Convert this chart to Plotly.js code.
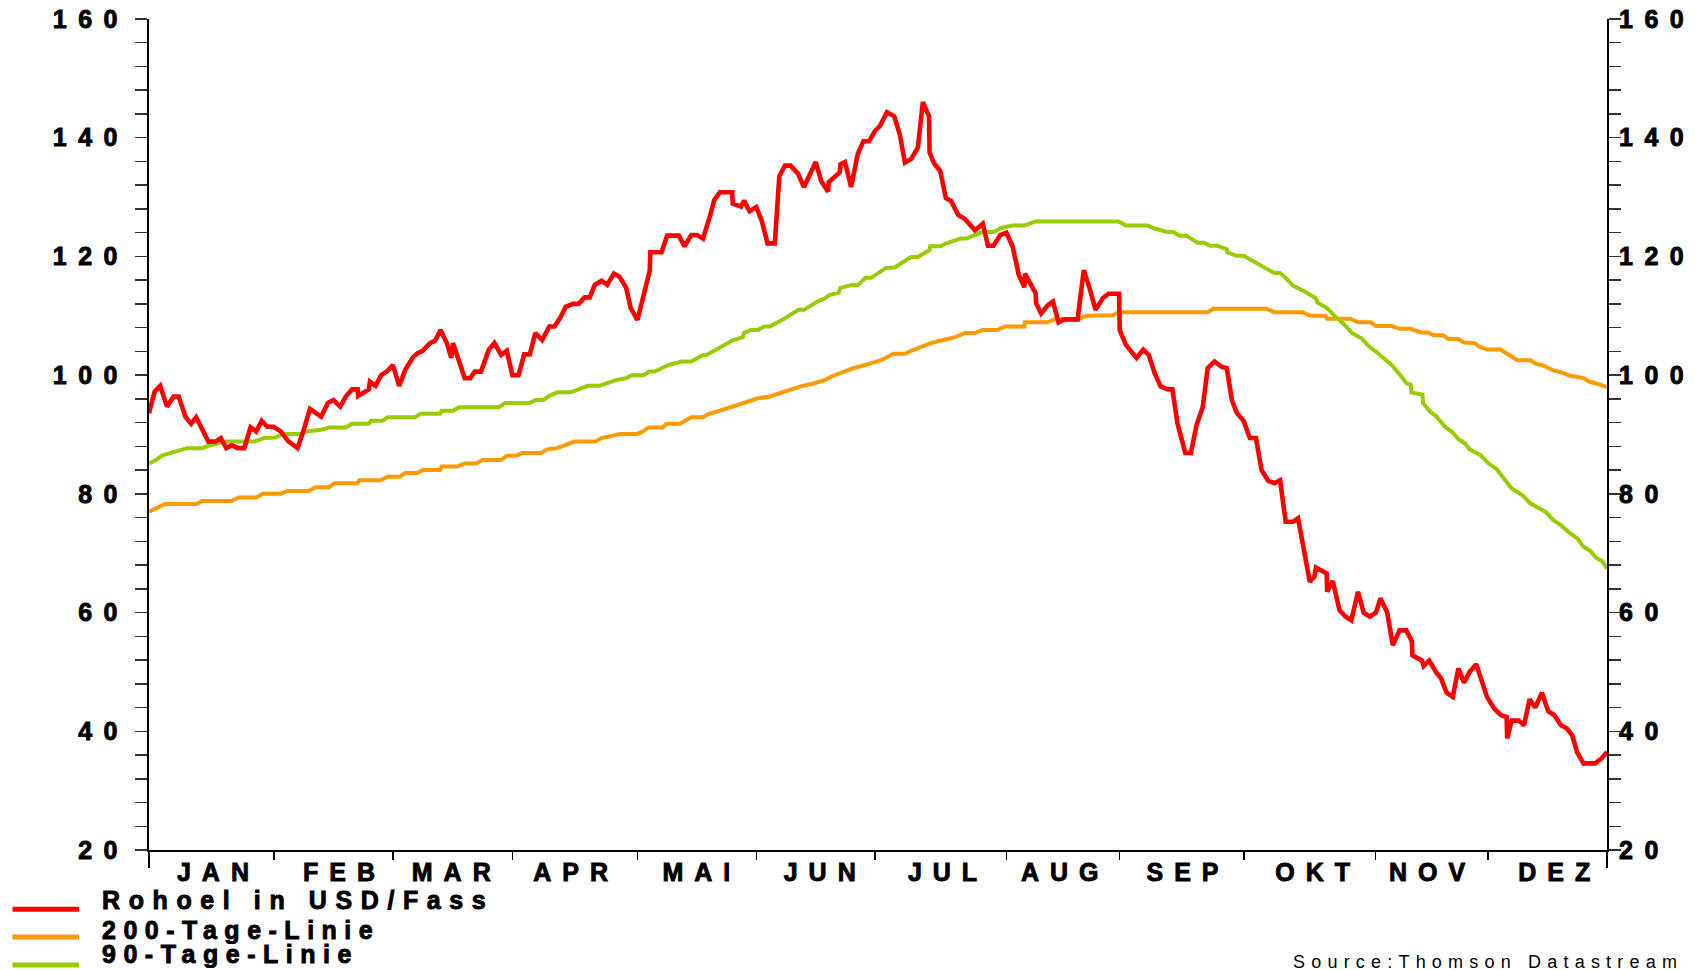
<!DOCTYPE html>
<html>
<head>
<meta charset="utf-8">
<script src="https://cdn.plot.ly/plotly-3.0.1.min.js"></script>
<style>
  html, body { margin: 0; padding: 0; background: #fff; }
  #chart { width: 1695px; height: 970px; }
  .xtick text, .x2tick text, .x3tick text { letter-spacing: 11px; stroke: #000; stroke-width: 0.9px; }
  .ytick text, .y2tick text { letter-spacing: 11.5px; stroke: #000; stroke-width: 0.9px; }
  .annotation-text { letter-spacing: 7.5px; stroke: #000; stroke-width: 0.9px; }
  .annotation[data-index="0"] .annotation-text { letter-spacing: 8.6px; }
  .annotation[data-index="3"] .annotation-text { letter-spacing: 6.2px; stroke-width: 0; }
</style>
</head>
<body>
<div id="chart"></div>
<script>
// ---------------- data (x = Handelstag-Index im Jahr, y = USD/Fass) ----------------
const rohoelTag = [0,1.0,2.0,3.2,4.4,5.3,6.5,7.5,8.4,9.3,10.6,11.9,12.8,13.8,14.8,15.8,17.0,18.1,19.1,20.1,21.1,22.2,23.4,24.9,26.5,27.6,28.7,30.7,31.9,32.9,34.1,35.1,36.2,37.2,37.3,39.2,39.4,40.4,41.4,42.4,43.5,44.6,45.7,47.0,47.9,48.8,50.1,51.0,52.0,53.1,53.9,54.2,55.1,56.3,57.3,58.1,59.2,60.6,61.6,62.8,63.8,64.8,65.9,66.9,67.9,68.9,70.1,71.4,72.3,73.3,74.3,75.6,76.6,77.7,78.6,79.5,80.7,81.7,82.9,83.9,85.1,85.9,87.1,89.3,89.4,91.4,92.4,94.5,95.5,96.7,97.7,98.8,100.1,100.8,101.8,104.0,104.1,105.6,106.1,107.1,108.3,109.3,110.3,111.6,112.4,113.4,114.4,115.7,116.8,118.9,119.9,121.1,121.2,123.2,123.3,124.1,125.2,126.4,127.4,128.4,129.5,130.3,131.6,132.9,133.9,134.8,135.9,137.1,138.0,139.1,139.2,140.0,141.1,142.1,143.0,144.3,145.5,147.3,148.7,149.6,150.6,151.8,152.9,154.0,155.1,156.1,156.2,158.1,158.2,159.1,160.2,161.2,162.2,163.2,165.6,166.7,167.8,168.8,170.1,171.1,173.0,173.1,174.2,176.1,177.3,178.3,179.3,180.4,181.7,182.5,183.4,184.8,185.8,186.8,187.9,188.8,190.0,191.3,192.2,193.1,194.0,195.2,196.3,197.4,198.4,199.6,200.7,201.7,202.7,204.0,204.9,206.1,207.0,207.8,208.1,210.0,210.1,211.1,212.3,213.4,214.4,215.6,216.6,217.7,218.8,219.6,220.8,221.8,223.0,224.2,225.2,225.3,227.0,227.3,228.3,229.5,230.4,231.4,232.5,233.5,234.5,235.5,236.7,237.4,238.6,239.9,241.1,242.1,242.2,243.0,244.3,245.2,246.2,247.2,248.4,249.5,250.6,251.8,252.8,253.8,254.7,255.8,257.9,259.0,260.0];
const rohoelWert = [93.6,97.2,98.2,94.7,96.4,96.4,93.0,91.8,92.9,91.3,88.8,88.8,89.4,87.7,88.2,87.7,87.7,91.2,90.5,92.3,91.3,91.3,90.6,88.8,87.7,90.8,94.3,93.0,95.3,95.8,94.7,96.4,97.6,97.6,96.5,97.6,98.9,98.2,100.0,100.6,101.7,98.2,100.9,102.9,103.7,104.1,105.4,105.8,107.6,105.4,102.9,105.4,102.6,99.5,99.5,100.6,100.6,104.3,105.4,103.4,104.1,100.0,100.0,103.5,103.5,107.1,105.9,108.2,108.2,109.6,111.5,112.0,112.0,113.1,113.1,115.2,115.9,115.2,117.1,116.6,114.7,111.3,109.3,117.6,120.7,120.7,123.5,123.5,121.7,123.6,123.6,123.0,127.0,129.5,130.8,130.8,128.9,128.4,129.4,127.6,128.3,125.9,122.2,122.2,133.5,135.3,135.3,134.0,131.7,135.9,132.6,130.9,132.5,134.2,135.5,135.9,131.7,137.3,139.4,139.4,141.2,141.9,144.3,143.6,140.5,135.8,136.4,138.3,146.0,143.6,137.5,135.7,134.4,129.8,129.4,127.0,126.3,124.4,125.5,121.8,121.8,123.6,124.0,121.7,116.9,114.8,117.1,113.8,112.1,110.4,111.7,112.4,108.9,109.4,109.4,117.7,114.4,111.0,113.0,113.7,113.7,107.6,105.1,102.9,104.3,103.4,100.4,98.1,97.6,97.6,91.9,86.9,86.9,91.6,94.6,101.2,102.3,101.4,101.2,95.8,93.6,92.3,89.4,89.4,84.0,82.2,81.8,82.3,75.3,75.3,75.9,69.4,65.2,66.0,67.6,66.6,63.5,65.3,60.4,59.3,58.7,63.5,60.0,59.3,60.0,62.4,60.0,54.5,57.0,57.0,55.2,52.8,51.9,51.0,51.9,50.0,48.9,46.5,45.8,50.6,48.2,50.0,51.3,49.2,45.8,43.8,42.7,42.4,38.8,41.8,41.8,41.0,45.4,44.0,46.5,43.4,42.7,41.0,40.5,39.3,36.4,34.6,34.6,35.4,36.5];

const linie200Tag = [0,1.4,2.9,8.5,9.5,14.7,16.0,19.1,20.3,23.5,24.7,28.5,29.7,32.1,33.1,37.2,37.5,41.3,42.6,44.7,45.7,47.8,48.8,51.9,52.2,54.9,56.3,58.3,59.5,62.8,63.8,65.5,66.5,69.9,71.0,72.8,74.2,75.9,79.6,80.7,84.1,87.1,88.2,89.1,91.6,92.3,94.7,96.7,98.8,99.8,101.8,104.2,106.3,108.6,110.7,112.4,114.1,116.2,118.5,120.6,122.0,123.3,125.7,127.7,129.5,130.8,132.7,134.9,135.9,139.4,141.1,143.8,145.5,147.3,148.6,151.3,152.7,156.1,156.2,160.2,161.5,165.6,167.3,171.9,172.9,188.8,189.8,199.3,200.7,205.7,207.1,209.8,210.1,214.2,215.6,217.9,218.8,221.6,223.0,225.0,226.7,228.1,229.1,230.8,231.7,233.5,234.5,236.5,237.2,238.6,241.0,242.7,244.0,246.4,247.3,248.7,250.4,251.8,253.4,255.8,256.8,258.1,260.0];
const linie200Wert = [77.0,77.6,78.3,78.3,78.8,78.8,79.4,79.4,80.0,80.0,80.5,80.5,81.1,81.1,81.8,81.8,82.3,82.3,82.9,82.9,83.5,83.5,84.0,84.0,84.6,84.6,85.1,85.1,85.7,85.7,86.4,86.4,86.9,86.9,87.5,87.7,88.2,88.8,88.8,89.4,90.1,90.1,90.6,91.2,91.2,91.8,91.8,92.9,92.9,93.5,94.0,94.7,95.3,96.1,96.4,96.9,97.5,98.1,98.6,99.2,99.9,100.4,101.2,101.7,102.3,102.6,103.6,103.6,104.1,105.4,105.8,106.4,107.1,107.1,107.6,107.6,108.2,108.2,108.9,108.9,109.4,109.4,110.0,110.1,110.6,110.6,111.2,111.2,110.6,110.6,110.0,110.0,109.5,109.5,108.9,108.9,108.3,108.3,107.8,107.8,107.2,107.2,106.7,106.7,106.1,106.1,105.5,105.4,104.8,104.3,104.3,103.3,102.5,102.5,101.9,101.6,100.8,100.5,99.9,99.5,98.9,98.6,98.0];

const linie90Tag = [0,1.4,2.4,4.4,6.8,9.5,10.9,13.6,18.8,20.5,22.5,23.9,27.3,28.0,30.7,32.1,35.1,36.2,39.2,39.6,41.6,42.6,47.4,48.4,51.9,52.2,54.2,55.3,62.4,63.5,67.9,68.9,70.3,71.3,72.8,75.2,76.6,78.3,80.3,81.7,83.4,85.1,86.1,88.2,89.2,90.2,92.6,95.0,96.7,98.8,99.4,101.5,104.2,105.9,106.1,107.3,108.6,109.7,110.7,113.1,115.8,116.8,119.2,120.6,121.3,123.0,123.3,125.4,126.4,127.8,128.8,131.5,132.9,135.9,137.1,139.2,139.3,141.1,142.4,144.8,145.8,147.2,148.6,150.6,152.0,154.0,156.1,158.1,172.9,174.2,178.0,179.3,181.6,182.7,183.7,185.0,187.0,188.1,189.2,190.5,192.2,192.3,193.9,195.2,198.0,200.7,201.7,202.7,204.0,206.1,208.0,208.4,210.1,211.5,213.2,214.5,216.2,217.6,218.9,220.6,221.6,223.3,224.3,225.0,225.1,227.1,227.2,228.4,229.6,231.1,232.3,233.5,234.8,235.5,237.5,238.9,240.3,242.0,243.0,245.0,246.3,249.0,250.4,251.8,253.1,254.7,255.8,257.0,258.0,259.2,260.0];
const linie90Wert = [85.1,85.8,86.5,87.1,87.7,87.7,88.2,88.8,88.8,89.4,89.5,90.1,90.1,90.5,90.8,91.2,91.2,91.8,91.8,92.3,92.3,92.9,92.9,93.5,93.5,94.0,94.0,94.6,94.6,95.3,95.3,95.8,95.8,96.5,97.1,97.1,97.6,98.2,98.2,98.7,99.2,99.5,100.0,100.0,100.6,100.6,101.7,102.3,102.3,103.4,103.4,104.5,105.9,106.4,107.1,107.6,107.6,108.2,108.2,109.4,111.0,111.0,112.4,113.0,113.5,113.9,114.7,115.2,115.2,116.4,116.4,118.1,118.1,119.9,119.9,121.1,121.7,121.7,122.3,123.0,123.0,123.6,124.1,124.1,124.8,125.2,125.2,125.9,125.9,125.2,125.2,124.7,124.1,124.1,123.5,123.5,122.3,122.3,121.8,121.8,121.2,120.7,120.1,120.1,118.6,117.2,117.2,116.4,115.1,114.1,113.0,112.2,111.3,109.9,108.5,107.1,106.2,104.8,103.9,102.6,101.7,99.8,98.6,98.4,97.1,96.7,95.3,93.9,93.0,91.3,90.5,89.2,88.4,87.5,86.5,85.1,84.2,82.1,80.9,79.7,78.4,77.0,75.6,74.7,73.6,72.5,71.1,70.4,69.3,68.6,67.4];

// ---------------- axis / tick labels ----------------
const monate = ['JAN','FEB','MAR','APR','MAI','JUN','JUL','AUG','SEP','OKT','NOV','DEZ'];
const monatsAnfang = [0, 22.3, 43.5, 64.8, 87.1, 108.3, 129.5, 152.9, 173.1, 195.3, 218.7, 238.8, 260];
const monatsLabelPos = [11.4, 33.9, 53.9, 75.2, 97.6, 119.6, 141.5, 162.4, 184.3, 207.5, 227.9, 250.6];
const xBereich = [0, 260];
const yBereich = [20, 160];
const serienNamen = ['Rohoel in USD/Fass', '200-Tage-Linie', '90-Tage-Linie'];
const serienFarben = ['#ff0000', '#ff9900', '#99cc00'];
const quelle = 'Source:Thomson Datastream';

// ---------------- layout helpers ----------------
const W = 1695, H = 970;
const M = {l: 149, r: 88, t: 19, b: 120};
const PW = W - M.l - M.r, PH = H - M.t - M.b;
const pxX = px => (px - M.l) / PW;
const pxY = py => (H - M.b - py) / PH;
const pxPerUnit = PW / (xBereich[1] - xBereich[0]);
const xLetterSpacing = 11;
const labelShift = (xLetterSpacing / 2) / pxPerUnit;

const FONT = 'Liberation Sans, Arial, sans-serif';
const tickFont = {family: FONT, size: 25, color: '#000', weight: 'bold'};

// orange on main x/y, green on x2 (month label axis), red on x3/y2 (end ticks / right axis) -> red drawn on top
const traces = [
  {x: linie200Tag, y: linie200Wert, name: serienNamen[1], type: 'scatter', mode: 'lines',
   xaxis: 'x', yaxis: 'y', line: {color: serienFarben[1], width: 4}, hoverinfo: 'skip'},
  {x: linie90Tag, y: linie90Wert, name: serienNamen[2], type: 'scatter', mode: 'lines',
   xaxis: 'x2', yaxis: 'y', line: {color: serienFarben[2], width: 4}, hoverinfo: 'skip'},
  {x: rohoelTag, y: rohoelWert, name: serienNamen[0], type: 'scatter', mode: 'lines',
   xaxis: 'x3', yaxis: 'y2', line: {color: serienFarben[0], width: 4.6}, hoverinfo: 'skip'}
];

const commonX = {range: xBereich, autorange: false, showgrid: false, zeroline: false, fixedrange: true};
const commonY = {range: yBereich, autorange: false, showgrid: false, zeroline: false, fixedrange: true,
  tickmode: 'linear', tick0: 20, dtick: 20, ticks: 'outside', ticklen: 12, tickwidth: 1.5, tickcolor: '#333',
  minor: {tick0: 20, dtick: 4, ticks: 'outside', ticklen: 12, tickwidth: 1.5, tickcolor: '#333', showgrid: false},
  showline: true, linecolor: '#000', linewidth: 2, tickfont: tickFont};

const legendRows = [
  {text: serienNamen[0], color: serienFarben[0], textY: 900.4, lineY: 909.3},
  {text: serienNamen[1], color: serienFarben[1], textY: 929.5, lineY: 937},
  {text: serienNamen[2], color: serienFarben[2], textY: 953.5, lineY: 965}
];

const annotations = legendRows.map(r => ({
  xref: 'paper', yref: 'paper', x: pxX(100), y: pxY(r.textY), xanchor: 'left', yanchor: 'middle',
  width: 470, align: 'left',
  text: r.text, showarrow: false, font: {family: FONT, size: 25, color: '#000', weight: 'bold'}
}));
annotations.push({
  xref: 'paper', yref: 'paper', x: pxX(1291), y: pxY(961.5), xanchor: 'left', yanchor: 'middle',
  width: 400, align: 'left',
  text: quelle, showarrow: false, font: {family: FONT, size: 18, color: '#000'}
});

const shapes = legendRows.map(r => ({
  type: 'line', xref: 'paper', yref: 'paper', x0: pxX(12.5), x1: pxX(79), y0: pxY(r.lineY), y1: pxY(r.lineY),
  line: {color: r.color, width: 5}
}));

const layout = {
  width: W, height: H, margin: M, paper_bgcolor: '#fff', plot_bgcolor: '#fff', showlegend: false,
  xaxis: Object.assign({}, commonX, {
    anchor: 'y', showline: true, linecolor: '#000', linewidth: 2, tickmode: 'array', tickvals: monatsAnfang,
    ticks: 'outside', ticklen: 8, tickwidth: 1.5, tickcolor: '#000', showticklabels: false
  }),
  xaxis2: Object.assign({}, commonX, {
    overlaying: 'x', anchor: 'y', side: 'bottom', showline: false, tickmode: 'array',
    tickvals: monatsLabelPos.map(v => v + labelShift), ticktext: monate, ticks: '',
    tickfont: tickFont, ticklabelstandoff: 5
  }),
  xaxis3: Object.assign({}, commonX, {
    overlaying: 'x', anchor: 'y', side: 'bottom', showline: false, tickmode: 'array',
    tickvals: [xBereich[0], xBereich[1]], ticks: 'outside', ticklen: 17, tickwidth: 2, tickcolor: '#000',
    showticklabels: false
  }),
  yaxis: Object.assign({}, commonY, {side: 'left', anchor: 'x', ticklabelstandoff: 1}),
  yaxis2: Object.assign({}, commonY, {side: 'right', anchor: 'x', overlaying: 'y', ticklabelstandoff: -7}),
  annotations: annotations,
  shapes: shapes
};

Plotly.newPlot('chart', traces, layout, {staticPlot: true, displayModeBar: false});
</script>
</body>
</html>
